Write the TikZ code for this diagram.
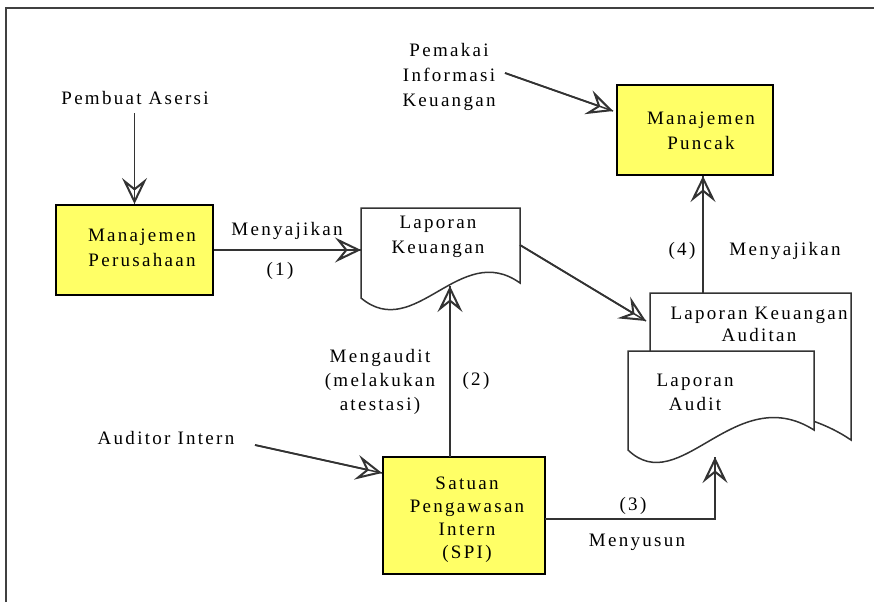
\documentclass[tikz,border=0pt]{standalone}
\usepackage{fontspec}
\setmainfont{Liberation Serif}[LetterSpace=12]
\usetikzlibrary{arrows.meta}
\definecolor{boxyellow}{HTML}{FFFF66}
\definecolor{linegray}{HTML}{333333}
\tikzset{
  lbl/.style={font=\fontsize{19}{25}\selectfont, inner sep=0pt, align=center, text=black},
  box/.style={draw=black, line width=2pt, fill=boxyellow, inner sep=0pt},
  doc/.style={draw=linegray, line width=1.5pt, fill=white},
  conn/.style={draw=linegray, line width=1.8pt,
    -{Stealth[open, length=26pt, width=25pt, inset=10pt, line width=2pt]},
    postaction={draw=linegray, line width=1.5pt, arrows=-}}
}
\begin{document}
\begin{tikzpicture}[x=1pt, y=-1pt]
\useasboundingbox (0,0) rectangle (874,602);
% outer frame
\draw[line width=2pt, gray!50!black] (6,602) -- (6,8) -- (874,8);

% boxes
\node[box, minimum width=157pt, minimum height=90pt] (mper) at (134.5,250) {};
\node[box, minimum width=156pt, minimum height=90pt] (mpu) at (695,130) {};
\node[box, minimum width=162pt, minimum height=117pt] (spi) at (464,515.5) {};

% documents (the audited report sits behind the audit report)
\draw[doc] (361,208) -- (520,208) -- (520,283)
  .. controls (460,240) and (415,343) .. (361,298) -- cycle;
\draw[doc] (650,293) -- (851,293) -- (851,440)
  .. controls (800,405) and (720,400) .. (650,420) -- cycle;
\draw[doc] (628,351) -- (814,351) -- (814,430)
  .. controls (735,380) and (680,500) .. (628,450) -- cycle;

% texts
\node[lbl] (tpa) at (135,98) {Pembuat Asersi};
\node[lbl] (tmper) at (142,248) {Manajemen\\Perusahaan};
\node[lbl] (tlk) at (438,237) {Laporan\\Keuangan};
\node[lbl] (tpik) at (449,77) {Pemakai\\Informasi\\Keuangan};
\node[lbl] (tmpu) at (701,131) {Manajemen\\Puncak};
\node[lbl, font=\fontsize{19}{23}\selectfont] (tspi) at (467,520) {Satuan\\Pengawasan\\Intern\\(SPI)};
\node[lbl] (tai) at (166,438) {Auditor Intern};
\node[lbl, font=\fontsize{19}{24}\selectfont] (tmeng) at (380,382) {Mengaudit\\(melakukan\\atestasi)};
\node[lbl, font=\fontsize{19}{22}\selectfont] (tlka) at (759,324) {Laporan Keuangan\\Auditan};
\node[lbl, font=\fontsize{19}{24}\selectfont] (tla) at (695,392) {Laporan\\Audit};

% connector labels
\node[lbl] (l1a) at (287,231) {Menyajikan};
\node[lbl] (l1b) at (280,271) {(1)};
\node[lbl] (l2) at (476,381) {(2)};
\node[lbl] (l3a) at (633,506) {(3)};
\node[lbl] (l3b) at (637,542) {Menyusun};
\node[lbl] (l4a) at (682,251) {(4)};
\node[lbl] (l4b) at (785,251) {Menyajikan};

% connector end points
\coordinate (paS) at (134.5,113);
\coordinate (lkL) at (361,250);
\coordinate (lkR) at (520,245);
\coordinate (lkB) at (450,286);
\coordinate (spiT) at (450,457);
\coordinate (aiE) at (255,445);
\coordinate (spiL) at (382,473);
\coordinate (spiR) at (545,519);
\coordinate (bend) at (715,519);
\coordinate (laB) at (715,457);
\coordinate (lkaL) at (646,321);
\coordinate (lkaT) at (703,293);
\coordinate (mpuB) at (703,176);
\coordinate (pikE) at (505,73);
\coordinate (mpuL) at (613,111);

% connectors
\draw[conn] (paS) -- (mper.north);
\draw[conn] (mper.east) -- (lkL);
\draw[conn] (spiT) -- (lkB);
\draw[conn] (aiE) -- (spiL);
\draw[conn] (spiR) -- (bend) -- (laB);
\draw[conn] (lkR) -- (lkaL);
\draw[conn] (lkaT) -- (mpuB);
\draw[conn] (pikE) -- (mpuL);
\end{tikzpicture}
\end{document}
